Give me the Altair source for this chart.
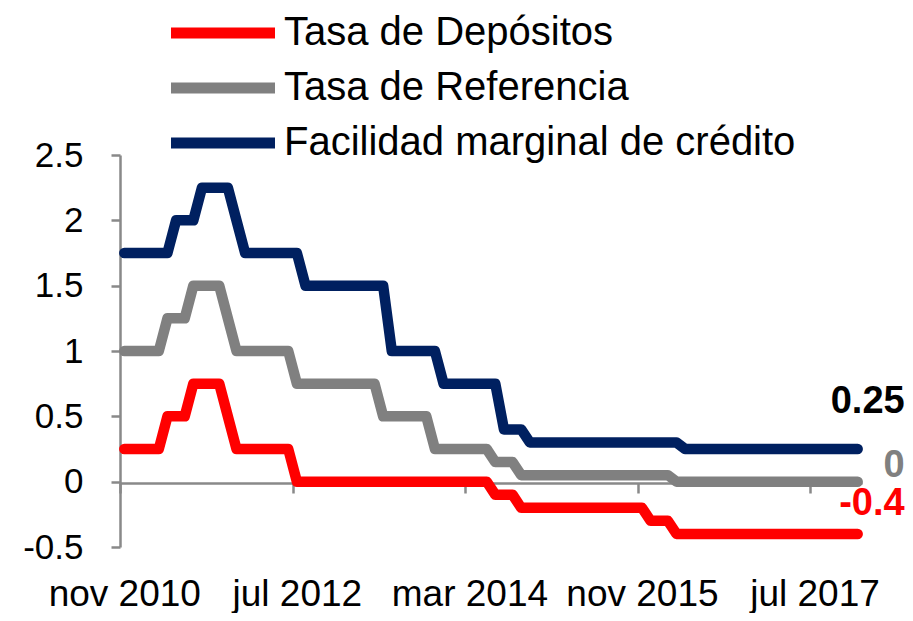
import json
import altair as alt
import pandas as pd

series_names = ["Tasa de Depósitos", "Tasa de Referencia", "Facilidad marginal de crédito"]
series_colors = ["#FF0000", "#808080", "#002060"]
end_label_colors = ["#FF0000", "#808080", "#000000"]

x_tick_labels = ["nov 2010", "jul 2012", "mar 2014", "nov 2015", "jul 2017"]
x_tick_values = [-0.5, 19.5, 39.5, 59.5, 79.5]
y_tick_values = [-0.5, 0, 0.5, 1, 1.5, 2, 2.5]

# monthly values, nov 2010 .. dec 2017
deposito = [
    0.25, 0.25, 0.25, 0.25, 0.25, 0.5, 0.5, 0.5, 0.75, 0.75,
    0.75, 0.75, 0.5, 0.25, 0.25, 0.25, 0.25, 0.25, 0.25, 0.25,
    0, 0, 0, 0, 0, 0, 0, 0, 0, 0,
    0, 0, 0, 0, 0, 0, 0, 0, 0, 0,
    0, 0, 0, -0.1, -0.1, -0.1, -0.2, -0.2, -0.2, -0.2,
    -0.2, -0.2, -0.2, -0.2, -0.2, -0.2, -0.2, -0.2, -0.2, -0.2,
    -0.2, -0.3, -0.3, -0.3, -0.4, -0.4, -0.4, -0.4, -0.4, -0.4,
    -0.4, -0.4, -0.4, -0.4, -0.4, -0.4, -0.4, -0.4, -0.4, -0.4,
    -0.4, -0.4, -0.4, -0.4, -0.4, -0.4,
]
referencia = [
    1, 1, 1, 1, 1, 1.25, 1.25, 1.25, 1.5, 1.5,
    1.5, 1.5, 1.25, 1, 1, 1, 1, 1, 1, 1,
    0.75, 0.75, 0.75, 0.75, 0.75, 0.75, 0.75, 0.75, 0.75, 0.75,
    0.5, 0.5, 0.5, 0.5, 0.5, 0.5, 0.25, 0.25, 0.25, 0.25,
    0.25, 0.25, 0.25, 0.15, 0.15, 0.15, 0.05, 0.05, 0.05, 0.05,
    0.05, 0.05, 0.05, 0.05, 0.05, 0.05, 0.05, 0.05, 0.05, 0.05,
    0.05, 0.05, 0.05, 0.05, 0, 0, 0, 0, 0, 0,
    0, 0, 0, 0, 0, 0, 0, 0, 0, 0,
    0, 0, 0, 0, 0, 0,
]
facilidad = [
    1.75, 1.75, 1.75, 1.75, 1.75, 1.75, 2, 2, 2, 2.25,
    2.25, 2.25, 2.25, 2, 1.75, 1.75, 1.75, 1.75, 1.75, 1.75,
    1.75, 1.5, 1.5, 1.5, 1.5, 1.5, 1.5, 1.5, 1.5, 1.5,
    1.5, 1, 1, 1, 1, 1, 1, 0.75, 0.75, 0.75,
    0.75, 0.75, 0.75, 0.75, 0.4, 0.4, 0.4, 0.3, 0.3, 0.3,
    0.3, 0.3, 0.3, 0.3, 0.3, 0.3, 0.3, 0.3, 0.3, 0.3,
    0.3, 0.3, 0.3, 0.3, 0.3, 0.25, 0.25, 0.25, 0.25, 0.25,
    0.25, 0.25, 0.25, 0.25, 0.25, 0.25, 0.25, 0.25, 0.25, 0.25,
    0.25, 0.25, 0.25, 0.25, 0.25, 0.25,
]
all_series = [deposito, referencia, facilidad]

rows = []
for name, vals in zip(series_names, all_series):
    for i, v in enumerate(vals):
        rows.append({"serie": name, "mes": i, "valor": v})
df = pd.DataFrame(rows)

end_rows = []
for name, vals, col in zip(series_names, all_series, end_label_colors):
    end_rows.append({"serie": name, "mes": len(vals) - 1, "valor": vals[-1],
                     "etiqueta": f"{vals[-1]:g}", "color": col})
df_end = pd.DataFrame(end_rows)

FONT = "Liberation Sans"
AXIS_GREY = "#898989"
n = len(deposito)

x_scale = alt.Scale(domain=[-0.5, n - 0.5], nice=False, zero=False)
y_scale = alt.Scale(domain=[-0.5, 2.5], nice=False, zero=False)

legend_path = "M-5.2,0H5.2"

x_enc = alt.X(
    "mes:Q", scale=x_scale, title=None,
    axis=alt.Axis(
        values=x_tick_values,
        labelExpr=f"{json.dumps(x_tick_labels)}[round((datum.value + 0.5) / 20)]",
        offset=-64, tickSize=10, tickWidth=2.5, tickColor=AXIS_GREY,
        domainColor=AXIS_GREY, domainWidth=2.5, grid=False,
        labelFont=FONT, labelFontSize=37, labelColor="black",
        labelPadding=83, labelOffset=4.3, labelFlush=False, labelOverlap=False,
        labelBound=False,
    ),
)
y_enc = alt.Y(
    "valor:Q", scale=y_scale, title=None,
    axis=alt.Axis(
        values=y_tick_values, labelExpr="datum.value + ''",
        tickSize=9, tickWidth=2.5, tickColor=AXIS_GREY,
        domainColor=AXIS_GREY, domainWidth=2.5, grid=False,
        labelFont=FONT, labelFontSize=35, labelColor="black",
        labelPadding=28, labelFlush=False, labelOverlap=False,
    ),
)

lines = alt.Chart(df).mark_line(
    strokeWidth=10.5, strokeCap="round", strokeJoin="round"
).encode(
    x=x_enc,
    y=y_enc,
    color=alt.Color(
        "serie:N",
        scale=alt.Scale(domain=series_names, range=series_colors),
        legend=alt.Legend(
            title=None, orient="none", legendX=83, legendY=-142,
            direction="vertical", symbolType=legend_path, symbolSize=400,
            symbolStrokeWidth=11, labelFont=FONT, labelFontSize=40,
            labelColor="black", labelOffset=41, rowPadding=11, padding=0,
            labelLimit=0,
        ),
    ),
    order=alt.Order("mes:Q"),
)

label_offsets = {
    "Facilidad marginal de crédito": -47,
    "Tasa de Referencia": -16,
    "Tasa de Depósitos": -30,
}
labels = []
for name in series_names:
    labels.append(
        alt.Chart(df_end).transform_filter(alt.datum.serie == name).mark_text(
            align="right", baseline="middle", dx=47, dy=label_offsets[name],
            font=FONT, fontSize=38, fontWeight="bold",
        ).encode(
            x=alt.X("mes:Q", scale=x_scale),
            y=alt.Y("valor:Q", scale=y_scale),
            text="etiqueta:N",
            color=alt.Color("color:N", scale=None, legend=None),
        )
    )

chart = alt.layer(lines, *labels).properties(
    width=742, height=392,
    padding={"left": 112, "top": 147, "right": 43, "bottom": 66},
    autosize=alt.AutoSizeParams(type="none"),
).configure_view(stroke=None)

chart.save("out.html", embed_options={"renderer": "svg", "actions": False})
